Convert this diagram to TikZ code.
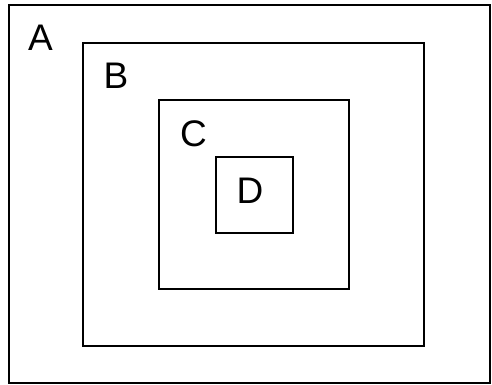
\documentclass[tikz,border=0pt]{standalone}
\usepackage{fontspec}
\setmainfont{Liberation Sans}
\begin{document}
\begin{tikzpicture}[x=1pt,y=-1pt,
  box/.style={draw=black,line width=1.4pt,fill=none},
  lbl/.style={font=\fontsize{37}{40}\selectfont,inner sep=0pt,anchor=base}]
\useasboundingbox[fill=white] (0,0) rectangle (492,385);
\node[box,minimum width=481pt,minimum height=378pt,inner sep=0pt] (A) at (249.5,194) {};
\node[box,minimum width=341pt,minimum height=303pt,inner sep=0pt] (B) at (253.5,194.5) {};
\node[box,minimum width=190pt,minimum height=189pt,inner sep=0pt] (C) at (254,194.5) {};
\node[box,minimum width=77pt,minimum height=76pt,inner sep=0pt] (D) at (254.5,195) {};
\node[lbl] (lA) at (40.5,51) {A};
\node[lbl] (lB) at (116,89) {B};
\node[lbl] (lC) at (193.5,146) {C};
\node[lbl] (lD) at (250,203) {D};
\end{tikzpicture}
\end{document}
